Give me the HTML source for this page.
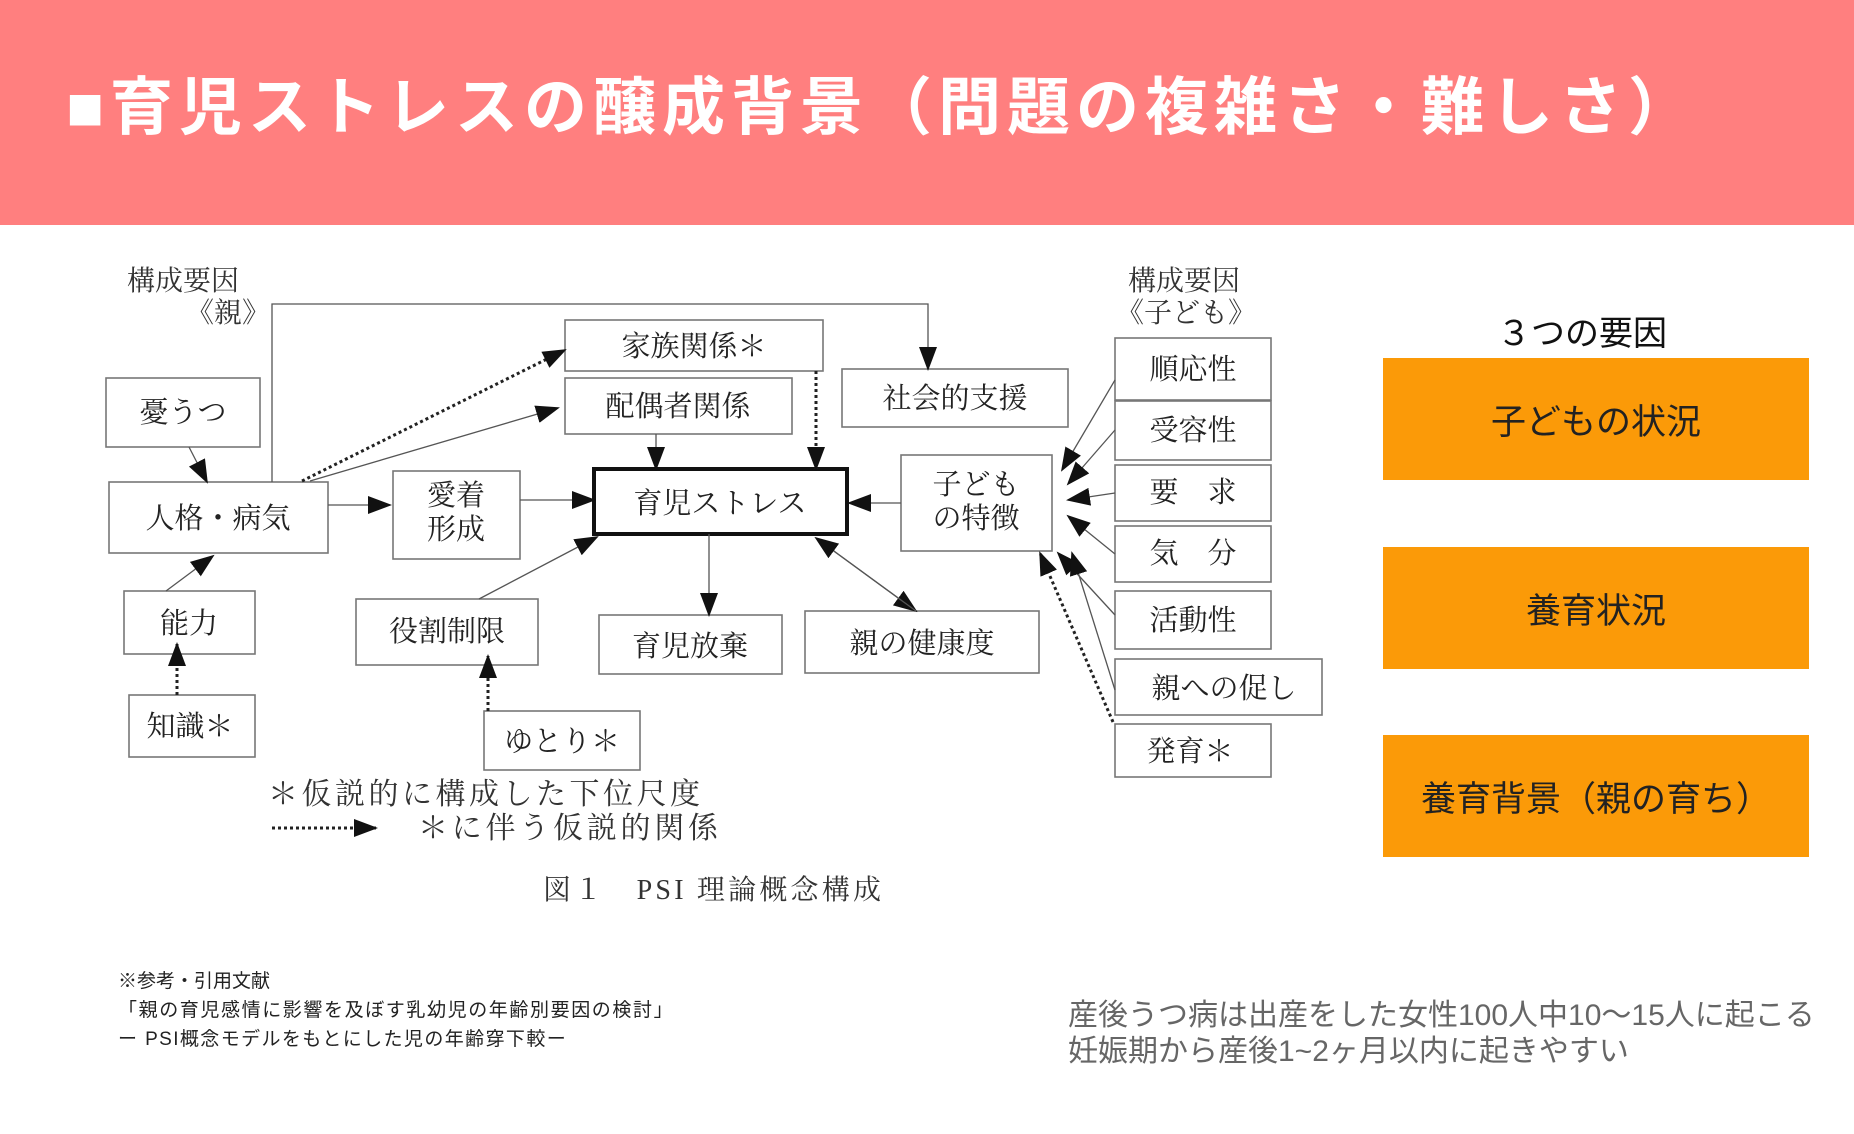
<!DOCTYPE html>
<html><head><meta charset="utf-8"><style>
body{margin:0;width:1854px;height:1134px;background:#fff;position:relative;overflow:hidden;font-family:"Liberation Sans","Noto Sans CJK JP",sans-serif}
.hd{position:absolute;left:0;top:0;width:1854px;height:225px;background:#ff7f7f}
.ttl{position:absolute;left:66px;top:68px;font-size:63px;font-weight:bold;color:#fff;letter-spacing:6px;white-space:nowrap;line-height:80px}
.ob{position:absolute;left:1383px;width:426px;height:122px;background:#fb9a08;display:flex;align-items:center;justify-content:center;font-size:35px;color:#222}
.t{position:absolute;white-space:nowrap}
</style></head><body>
<div class="hd"></div>
<div class="ttl">■育児ストレスの醸成背景（問題の複雑さ・難しさ）</div>
<svg style="position:absolute;left:0;top:0" width="1854" height="1134" font-family="'Liberation Serif','Noto Serif CJK SC',serif">
<defs><marker id="a" markerWidth="24" markerHeight="18" refX="22" refY="9" orient="auto" markerUnits="userSpaceOnUse"><path d="M0,0 L24,9 L0,18 z" fill="#111"/></marker></defs>
<g fill="#fff" stroke="#777" stroke-width="1.6">
<rect x="106" y="378" width="154" height="69"/>
<rect x="109" y="482" width="219" height="71"/>
<rect x="124" y="591" width="131" height="63"/>
<rect x="129" y="695" width="126" height="62"/>
<rect x="393" y="471" width="127" height="88"/>
<rect x="565" y="320" width="258" height="51"/>
<rect x="565" y="378" width="227" height="56"/>
<rect x="842" y="369" width="226" height="58"/>
<rect x="901" y="455" width="151" height="96"/>
<rect x="356" y="599" width="182" height="66"/>
<rect x="599" y="615" width="183" height="59"/>
<rect x="805" y="611" width="234" height="62"/>
<rect x="484" y="711" width="156" height="59"/>
<rect x="1115" y="338" width="156" height="62"/>
<rect x="1115" y="401" width="156" height="59"/>
<rect x="1115" y="465" width="156" height="56"/>
<rect x="1115" y="526" width="156" height="56"/>
<rect x="1115" y="591" width="156" height="58"/>
<rect x="1115" y="659" width="207" height="56"/>
<rect x="1115" y="724" width="156" height="53"/>
</g>
<rect x="594" y="469" width="253" height="65" fill="#fff" stroke="#111" stroke-width="4"/>
<g stroke="#555" stroke-width="1.3" fill="none" marker-end="url(#a)">
<polyline points="272,482 272,304 928,304 928,369"/>
<line x1="189" y1="447" x2="207" y2="482"/>
<line x1="310" y1="481" x2="558" y2="408"/>
<line x1="328" y1="505" x2="390" y2="505"/>
<line x1="520" y1="500" x2="594" y2="500"/>
<line x1="166" y1="591" x2="213" y2="556"/>
<line x1="656" y1="434" x2="656" y2="469"/>
<line x1="901" y1="503" x2="849" y2="503"/>
<line x1="479" y1="599" x2="597" y2="537"/>
<line x1="709" y1="534" x2="709" y2="615"/>
<line x1="816" y1="538" x2="916" y2="611"/>
<line x1="916" y1="611" x2="816" y2="538"/>
<line x1="1115" y1="380" x2="1062" y2="470"/>
<line x1="1115" y1="430" x2="1068" y2="484"/>
<line x1="1115" y1="493" x2="1068" y2="500"/>
<line x1="1115" y1="554" x2="1068" y2="516"/>
<line x1="1115" y1="615" x2="1058" y2="553"/>
<line x1="1115" y1="690" x2="1072" y2="553"/>
</g>
<g stroke="#222" stroke-width="3" stroke-dasharray="3,3" fill="none" marker-end="url(#a)">
<line x1="302" y1="481" x2="565" y2="350"/>
<line x1="177" y1="695" x2="177" y2="644"/>
<line x1="816" y1="371" x2="816" y2="469"/>
<line x1="488" y1="711" x2="488" y2="656"/>
<line x1="1113" y1="722" x2="1040" y2="553"/>
<line x1="272" y1="828" x2="376" y2="828"/>
</g>
<g font-size="29" fill="#222" text-anchor="middle">
<text x="183" y="422">憂うつ</text>
<text x="218" y="528">人格・病気</text>
<text x="189" y="633">能力</text>
<text x="190" y="736">知識＊</text>
<text x="456" y="505">愛着</text>
<text x="456" y="539">形成</text>
<text x="694" y="356">家族関係＊</text>
<text x="678" y="416">配偶者関係</text>
<text x="955" y="408">社会的支援</text>
<text x="720" y="513">育児ストレス</text>
<text x="976" y="494">子ども</text>
<text x="976" y="528">の特徴</text>
<text x="447" y="641">役割制限</text>
<text x="690" y="656">育児放棄</text>
<text x="922" y="653">親の健康度</text>
<text x="562" y="751">ゆとり＊</text>
<text x="1193" y="379">順応性</text>
<text x="1193" y="440">受容性</text>
<text x="1193" y="502">要　求</text>
<text x="1193" y="563">気　分</text>
<text x="1193" y="630">活動性</text>
<text x="1224" y="698">親への促し</text>
<text x="1190" y="761">発育＊</text>
</g>
<g font-size="28" fill="#333">
<text x="127" y="290">構成要因</text>
<text x="186" y="322">《親》</text>
<text x="1128" y="290">構成要因</text>
<text x="1116" y="322">《子ども》</text>
</g>
<g font-size="30" fill="#333">
<text x="268" y="804" textLength="432" lengthAdjust="spacing">＊仮説的に構成した下位尺度</text>
<text x="418" y="838" textLength="300" lengthAdjust="spacing">＊に伴う仮説的関係</text>
<text x="543" y="899" font-size="28" textLength="338" lengthAdjust="spacing">図１　PSI 理論概念構成</text>
</g>
</svg>
<div class="t" style="left:118px;top:966px;font-size:19px;color:#222">※参考・引用文献</div>
<div class="t" style="left:118px;top:995px;font-size:19px;color:#222;letter-spacing:1.6px">「親の育児感情に影響を及ぼす乳幼児の年齢別要因の検討」</div>
<div class="t" style="left:118px;top:1024px;font-size:19px;color:#222;letter-spacing:1.4px">ー PSI概念モデルをもとにした児の年齢穿下較ー</div>
<div class="t" style="left:1497px;top:306px;font-size:34px;color:#111">３つの要因</div>
<div class="ob" style="top:358px">子どもの状況</div>
<div class="ob" style="top:547px">養育状況</div>
<div class="ob" style="top:735px">養育背景（親の育ち）</div>
<div class="t" style="left:1068px;top:998px;font-size:30px;color:#666;line-height:36px">産後うつ病は出産をした女性100人中10〜15人に起こる<br>妊娠期から産後1~2ヶ月以内に起きやすい</div>
</body></html>
